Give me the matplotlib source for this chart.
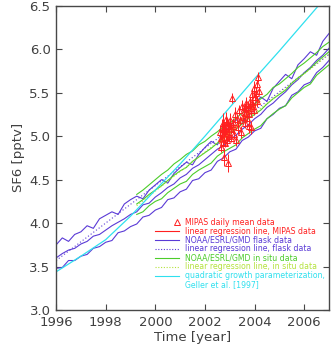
import numpy as np
import matplotlib
matplotlib.use("Agg")
import matplotlib.pyplot as plt

# ---------------- data ----------------
quarters = [1996 + 0.25 * i for i in range(45)]
flask_high = [3.75, 3.83, 3.79, 3.87, 3.90, 3.97, 3.94, 4.05, 4.09, 4.13, 4.10, 4.22,
              4.27, 4.31, 4.28, 4.38, 4.44, 4.50, 4.46, 4.57, 4.64, 4.70, 4.67, 4.79,
              4.87, 4.94, 4.90, 5.03, 5.11, 5.19, 5.14, 5.28, 5.37, 5.45, 5.40, 5.55,
              5.63, 5.71, 5.66, 5.82, 5.89, 5.97, 5.93, 6.09, 6.18]
flask_mid = [3.60, 3.65, 3.69, 3.71, 3.76, 3.79, 3.85, 3.87, 3.92, 3.97, 4.01, 4.05,
             4.10, 4.13, 4.21, 4.23, 4.30, 4.35, 4.41, 4.45, 4.52, 4.56, 4.63, 4.67,
             4.73, 4.79, 4.85, 4.89, 4.96, 5.01, 5.08, 5.13, 5.20, 5.25, 5.33, 5.38,
             5.45, 5.51, 5.59, 5.65, 5.73, 5.79, 5.87, 5.93, 6.01]
flask_low = [3.48, 3.49, 3.57, 3.57, 3.62, 3.64, 3.71, 3.73, 3.78, 3.80, 3.89, 3.91,
             3.96, 3.99, 4.07, 4.09, 4.15, 4.18, 4.27, 4.29, 4.36, 4.39, 4.49, 4.51,
             4.58, 4.61, 4.71, 4.75, 4.82, 4.85, 4.95, 4.99, 5.06, 5.09, 5.20, 5.25,
             5.32, 5.35, 5.47, 5.51, 5.59, 5.62, 5.73, 5.79, 5.87]

insitu_quarters = [1999.25 + 0.25 * i for i in range(32)]
insitu_high = [4.33, 4.38, 4.44, 4.50, 4.56, 4.61, 4.68, 4.73, 4.79, 4.83, 4.90,
               4.94, 5.00, 5.05, 5.11, 5.15, 5.21, 5.26, 5.33, 5.37, 5.43, 5.48, 5.56,
               5.60, 5.66, 5.72, 5.79, 5.84, 5.90, 5.96, 6.03, 6.08]
insitu_mid = [4.22, 4.27, 4.33, 4.38, 4.43, 4.49, 4.55, 4.60, 4.64, 4.71, 4.76,
              4.81, 4.86, 4.92, 4.98, 5.03, 5.08, 5.14, 5.20, 5.25, 5.30, 5.37, 5.43,
              5.48, 5.53, 5.61, 5.67, 5.72, 5.78, 5.85, 5.91, 5.97]
insitu_low = [4.10, 4.13, 4.20, 4.25, 4.28, 4.35, 4.40, 4.45, 4.48, 4.56, 4.61,
              4.65, 4.69, 4.77, 4.82, 4.86, 4.90, 4.98, 5.03, 5.08, 5.12, 5.20, 5.26,
              5.31, 5.35, 5.44, 5.50, 5.56, 5.60, 5.70, 5.76, 5.82]

flask_reg_t = [1996.0, 2007.0]
flask_reg_v = [3.57, 5.94]
insitu_reg_t = [1999.25, 2007.0]
insitu_reg_v = [4.20, 5.94]

geller_years = list(range(1996, 2008))
geller_vals = [3.44, 3.62, 3.81, 4.08, 4.38, 4.68, 5.00, 5.33, 5.66, 5.98, 6.31, 6.64]

mipas_t = [2002.62, 2002.64, 2002.65, 2002.67, 2002.68, 2002.70, 2002.71, 2002.72,
           2002.74, 2002.75, 2002.77, 2002.78, 2002.80, 2002.82, 2002.83, 2002.85,
           2002.86, 2002.88, 2002.90, 2002.91, 2002.93, 2002.94, 2002.96, 2002.97,
           2003.00, 2003.02, 2003.04, 2003.07, 2003.10, 2003.12, 2003.14, 2003.18,
           2003.22, 2003.26, 2003.30, 2003.34, 2003.38, 2003.42, 2003.46, 2003.50,
           2003.54, 2003.58, 2003.60, 2003.62, 2003.64, 2003.66, 2003.68, 2003.70,
           2003.72, 2003.74, 2003.76, 2003.78, 2003.80, 2003.82, 2003.84, 2003.86,
           2003.88, 2003.90, 2003.93, 2003.96, 2003.99, 2004.02, 2004.05, 2004.08,
           2004.11, 2004.14, 2004.17]
mipas_v = [5.05, 4.98, 4.88, 5.04, 5.10, 4.98, 5.08, 5.15, 4.93, 4.76, 5.10, 5.02,
           4.92, 5.06, 5.20, 4.99, 5.05, 4.95, 5.16, 5.12, 5.03, 4.69, 5.09, 5.00,
           5.18, 5.12, 5.08, 4.98, 5.44, 5.16, 5.12, 5.02, 5.25, 4.95, 5.20, 5.10,
           5.30, 5.18, 5.05, 5.35, 5.22, 5.28, 5.33, 5.15, 5.27, 5.38, 5.21, 5.25,
           5.34, 5.32, 5.26, 5.12, 5.36, 5.40, 5.30, 5.10, 5.38, 5.48, 5.35, 5.55,
           5.30, 5.45, 5.50, 5.40, 5.60, 5.68, 5.52]
mipas_err = [0.08, 0.05, 0.06, 0.05, 0.10, 0.05, 0.06, 0.12, 0.05, 0.10, 0.06, 0.06,
             0.05, 0.06, 0.08, 0.05, 0.04, 0.06, 0.05, 0.07, 0.05, 0.10, 0.06, 0.05,
             0.09, 0.05, 0.06, 0.05, 0.06, 0.05, 0.07, 0.05, 0.08, 0.06, 0.05, 0.07,
             0.06, 0.05, 0.07, 0.06, 0.05, 0.08, 0.05, 0.06, 0.05, 0.07, 0.05, 0.05,
             0.06, 0.06, 0.05, 0.08, 0.05, 0.05, 0.06, 0.07, 0.05, 0.06, 0.05, 0.08,
             0.06, 0.05, 0.07, 0.06, 0.05, 0.06, 0.05]
mipas_reg_t = [2002.6, 2004.2]
mipas_reg_v = [4.92, 5.40]

xticks = [1996, 1998, 2000, 2002, 2004, 2006]
yticks = [3.0, 3.5, 4.0, 4.5, 5.0, 5.5, 6.0, 6.5]

# ---------------- style ----------------
c_red = "#ff2020"
c_purple = "#5a3ad6"
c_green = "#4ccc2a"
c_ygreen = "#b4e23c"
c_cyan = "#2fe0ee"
c_text = "#404040"
c_axis = "#484848"

fig = plt.figure(figsize=(3.34, 3.54), dpi=100)
ax = fig.add_axes([0.168, 0.124, 0.817, 0.860])

lw = 0.8
ax.plot(quarters, flask_high, color=c_purple, lw=lw)
ax.plot(quarters, flask_mid, color=c_purple, lw=lw)
ax.plot(quarters, flask_low, color=c_purple, lw=lw)
ax.plot(flask_reg_t, flask_reg_v, color=c_purple, lw=lw, ls=(0, (1, 2)))
ax.plot(insitu_quarters, insitu_high, color=c_green, lw=lw)
ax.plot(insitu_quarters, insitu_mid, color=c_green, lw=lw)
ax.plot(insitu_quarters, insitu_low, color=c_green, lw=lw)
ax.plot(insitu_reg_t, insitu_reg_v, color=c_ygreen, lw=lw, ls=(0, (1, 2)))
ax.plot(geller_years, geller_vals, color=c_cyan, lw=0.9)

ax.errorbar(mipas_t, mipas_v, yerr=mipas_err, fmt='none', ecolor=c_red,
            elinewidth=0.7)
ax.plot(mipas_t, mipas_v, ls='none', marker='^', ms=4.3, mfc='none',
        mec=c_red, mew=0.7)
ax.plot(mipas_reg_t, mipas_reg_v, color=c_red, lw=1.0)
ax.plot(mipas_reg_t, mipas_reg_v, color="#f0a020", lw=0.6, ls=(0, (1, 2)))

ax.set_xlim(1996, 2007)
ax.set_ylim(3.0, 6.5)
ax.set_xticks(xticks)
ax.set_yticks(yticks)
ax.set_yticklabels([f"{v:.1f}" for v in yticks])
ax.tick_params(direction='in', length=4.3, width=0.8, top=True, right=True,
               labelsize=9.5, colors=c_axis, labelcolor=c_text, pad=4)
for s in ax.spines.values():
    s.set_color(c_axis)
    s.set_linewidth(1.0)
ax.set_xlabel("Time [year]", fontsize=9.5, color=c_text, labelpad=2)
ax.set_ylabel("SF6 [pptv]", fontsize=9.5, color=c_text, labelpad=3)

# ---------------- legend (manual) ----------------
entries = [
    ("marker", c_red, "-", "MIPAS daily mean data"),
    ("line", c_red, "-", "linear regression line, MIPAS data"),
    ("line", c_purple, "-", "NOAA/ESRL/GMD flask data"),
    ("line", c_purple, ":", "linear regression line, flask data"),
    ("line", c_green, "-", "NOAA/ESRL/GMD in situ data"),
    ("line", c_ygreen, ":", "linear regression line, in situ data"),
    ("line", c_cyan, "-", "quadratic growth parameterization,"),
    ("none", c_cyan, "-", "Geller et al. [1997]"),
]
y0 = 0.289
dy = 0.0293
x_h0, x_h1, x_txt = 0.363, 0.452, 0.473
for i, (kind, col, ls, label) in enumerate(entries):
    y = y0 - i * dy
    if kind == "marker":
        ax.plot([0.443], [y], transform=ax.transAxes, ls='none', marker='^',
                ms=4.0, mfc='none', mec=col, mew=0.7, clip_on=False)
    elif kind == "line":
        ax.plot([x_h0, x_h1], [y, y], transform=ax.transAxes, color=col,
                lw=0.8, ls=(0, (1, 1.5)) if ls == ":" else "-")
    ax.text(x_txt, y, label, transform=ax.transAxes, color=col,
            fontsize=5.55, va='center', ha='left')

fig.savefig("out.png", dpi=100)
